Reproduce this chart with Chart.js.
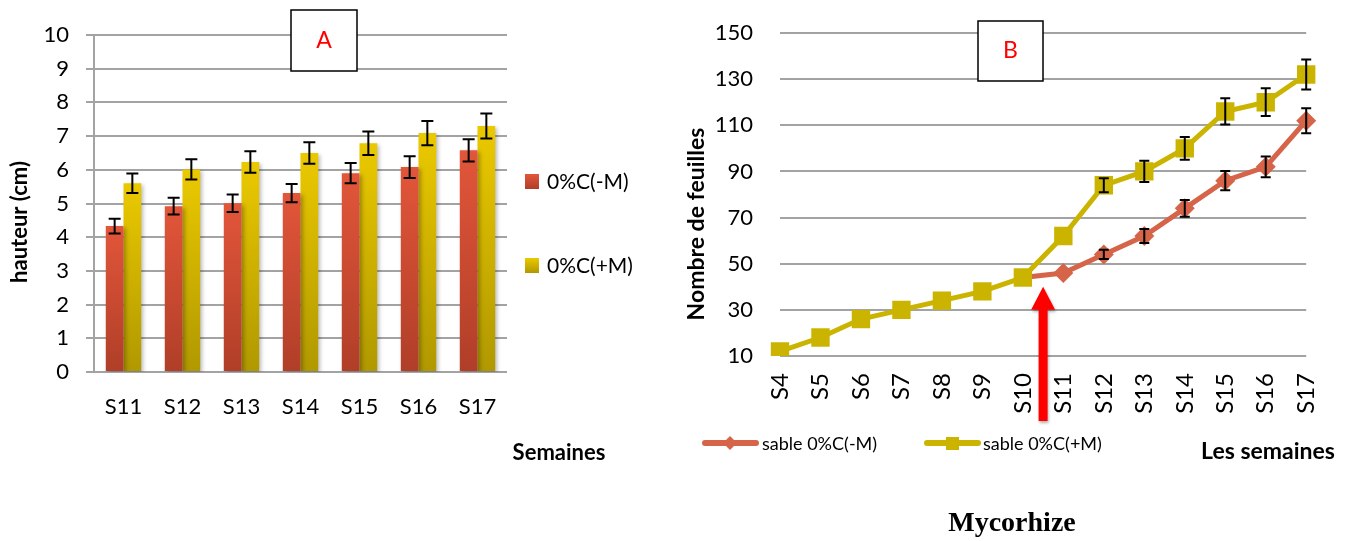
<!DOCTYPE html>
<html>
<head>
<meta charset="utf-8">
<script src="https://cdn.jsdelivr.net/npm/chart.js@4.4.0/dist/chart.umd.min.js"></script>
<style>
  body { margin: 0; background: #fff; }
  #wrap { position: relative; width: 1352px; height: 541px; overflow: hidden; }
  canvas { position: absolute; top: 0; }
  #chartA { left: 0; }
  #chartB { left: 676px; }
  #caption { position: absolute; top: 506px; left: 912px; width: 200px; text-align: center;
    font: bold 28px "Liberation Serif", serif; color: #000; }
</style>
</head>
<body>
<div id="wrap">
  <canvas id="chartA" width="676" height="541"></canvas>
  <canvas id="chartB" width="676" height="541"></canvas>
  <div id="caption">Mycorhize</div>
</div>
<script>
// --- graph A : hauteur
var weeksA = ['S11', 'S12', 'S13', 'S14', 'S15', 'S16', 'S17'];
var heightMinus = [4.33, 4.92, 5.01, 5.31, 5.9, 6.08, 6.58];
var heightPlus = [5.6, 6.01, 6.23, 6.5, 6.79, 7.09, 7.3];
var errHeightMinus = [0.22, 0.25, 0.26, 0.27, 0.3, 0.32, 0.33];
var errHeightPlus = [0.29, 0.3, 0.32, 0.32, 0.35, 0.36, 0.37];

// --- graph B : nombre de feuilles
var weeksB = ['S4', 'S5', 'S6', 'S7', 'S8', 'S9', 'S10', 'S11', 'S12', 'S13', 'S14', 'S15', 'S16', 'S17'];
var leavesMinus = [null, null, null, null, null, null, 44, 46, 54, 62, 74, 86, 92, 112];
var leavesPlus = [12, 18, 26, 30, 34, 38, 44, 62, 84, 90, 100, 116, 120, 132];
var errLeavesMinus = [0, 0, 0, 0, 0, 0, 0, 0, 2, 3, 3.6, 4.2, 4.5, 5.4];
var errLeavesPlus = [0, 0, 0, 0, 0, 0, 0, 0, 3, 4.6, 4.9, 5.7, 6, 6.5];

var labelsA = ['0%C(-M)', '0%C(+M)'];
var labelsB = ['sable 0%C(-M)', 'sable 0%C(+M)'];

var RED_TOP = '#e2563a', RED_BOT = '#b03e28';
var YEL_TOP = '#ebc900', YEL_BOT = '#b09800';
var LINE_RED = '#d56448', LINE_YEL = '#cbb400';
var GRID = '#a3a3a3';
var FONT = 'Lato, "Open Sans", sans-serif';

Chart.defaults.color = '#000';
Chart.defaults.font.family = FONT;

function barFill(top, bottom) {
  return function (c) {
    var chart = c.chart;
    var y = chart.scales.y;
    if (!y || c.parsed == null) return top;
    var y0 = y.getPixelForValue(0);
    var y1 = y.getPixelForValue(c.parsed.y);
    if (!isFinite(y0) || !isFinite(y1) || y0 === y1) return top;
    var g = chart.ctx.createLinearGradient(0, y1, 0, y0);
    g.addColorStop(0, top);
    g.addColorStop(1, bottom);
    return g;
  };
}

function drawErrors(chart, dsIndex, errs, values, cap) {
  var ctx = chart.ctx, y = chart.scales.y;
  var meta = chart.getDatasetMeta(dsIndex);
  ctx.save();
  ctx.strokeStyle = '#000';
  ctx.lineWidth = 2;
  meta.data.forEach(function (el, i) {
    var v = values[i], e = errs[i];
    if (v == null || !e) return;
    var x = el.x;
    var t = y.getPixelForValue(v + e), b = y.getPixelForValue(v - e);
    ctx.beginPath();
    ctx.moveTo(x, t); ctx.lineTo(x, b);
    ctx.moveTo(x - cap, t); ctx.lineTo(x + cap, t);
    ctx.moveTo(x - cap, b); ctx.lineTo(x + cap, b);
    ctx.stroke();
  });
  ctx.restore();
}

function labelBox(ctx, x, y, w, h, txt) {
  ctx.save();
  ctx.fillStyle = '#fff';
  ctx.fillRect(x, y, w, h);
  ctx.strokeStyle = '#000';
  ctx.lineWidth = 1.5;
  ctx.strokeRect(x, y, w, h);
  ctx.fillStyle = '#ff0000';
  ctx.font = '23px ' + FONT;
  ctx.textAlign = 'center';
  ctx.textBaseline = 'middle';
  ctx.fillText(txt, x + w / 2, y + h / 2);
  ctx.restore();
}

function vText(ctx, txt, x, y, font) {
  ctx.save();
  ctx.translate(x, y);
  ctx.rotate(-Math.PI / 2);
  ctx.font = font;
  ctx.textAlign = 'center';
  ctx.textBaseline = 'middle';
  ctx.fillStyle = '#000';
  ctx.fillText(txt, 0, 0);
  ctx.restore();
}

var decorA = {
  id: 'decorA',
  beforeDatasetsDraw: function (chart) {
    var ctx = chart.ctx;
    ctx.save();
    ctx.shadowColor = 'rgba(0,0,0,0.28)';
    ctx.shadowBlur = 4;
    ctx.shadowOffsetX = 2;
    ctx.shadowOffsetY = 2;
  },
  afterDatasetsDraw: function (chart) {
    var ctx = chart.ctx;
    ctx.restore();
    drawErrors(chart, 0, errHeightMinus, heightMinus, 6);
    drawErrors(chart, 1, errHeightPlus, heightPlus, 6);

    labelBox(ctx, 291, 10, 66, 61, 'A');
    vText(ctx, 'hauteur (cm)', 20, 222, 'bold 22px ' + FONT);

    ctx.save();
    ctx.fillStyle = '#000';
    ctx.font = 'bold 22px ' + FONT;
    ctx.textAlign = 'center';
    ctx.textBaseline = 'middle';
    ctx.fillText('Semaines', 559, 453);

    // legend
    var items = [[RED_TOP, RED_BOT, 174], [YEL_TOP, YEL_BOT, 258]];
    ctx.font = '21px ' + FONT;
    ctx.textAlign = 'left';
    items.forEach(function (it, k) {
      var g = ctx.createLinearGradient(0, it[2], 0, it[2] + 15);
      g.addColorStop(0, it[0]); g.addColorStop(1, it[1]);
      ctx.fillStyle = g;
      ctx.fillRect(525, it[2], 14, 15);
      ctx.fillStyle = '#000';
      ctx.fillText(labelsA[k], 547, it[2] + 8);
    });
    ctx.restore();
  }
};

new Chart(document.getElementById('chartA'), {
  type: 'bar',
  data: {
    labels: weeksA,
    datasets: [
      { label: labelsA[0], data: heightMinus, backgroundColor: barFill(RED_TOP, RED_BOT),
        categoryPercentage: 0.6, barPercentage: 1.0, borderWidth: 0 },
      { label: labelsA[1], data: heightPlus, backgroundColor: barFill(YEL_TOP, YEL_BOT),
        categoryPercentage: 0.6, barPercentage: 1.0, borderWidth: 0 }
    ]
  },
  options: {
    responsive: false,
    animation: false,
    devicePixelRatio: 1,
    layout: { padding: { left: 0, right: 169, top: 35, bottom: 0 } },
    plugins: { legend: { display: false }, tooltip: { enabled: false } },
    scales: {
      x: {
        grid: { display: false, drawTicks: false },
        border: { display: false },
        ticks: { font: { size: 22 }, padding: 22, maxRotation: 0 },
        afterFit: function (s) { s.height = 169; }
      },
      y: {
        min: 0, max: 10,
        ticks: { stepSize: 1, font: { size: 22 }, padding: 17 },
        grid: { color: GRID, lineWidth: 2, drawTicks: true, tickLength: 8 },
        border: { display: true, color: GRID, width: 2 },
        afterFit: function (s) { s.width = 94; s.paddingTop = 0; s.paddingBottom = 0; }
      }
    }
  },
  plugins: [decorA]
});

var decorB = {
  id: 'decorB',
  afterDatasetsDraw: function (chart) {
    var ctx = chart.ctx;
    var xs = chart.scales.x, ys = chart.scales.y;
    drawErrors(chart, 0, errLeavesMinus, leavesMinus, 5);
    drawErrors(chart, 1, errLeavesPlus, leavesPlus, 5);

    labelBox(ctx, 302, 21, 65, 60, 'B');
    vText(ctx, 'Nombre de feuilles', 21, 224, 'bold 23px ' + FONT);

    // arrow between S10 and S11
    var ax = (xs.getPixelForValue(6) + xs.getPixelForValue(7)) / 2;
    var tip = ys.getPixelForValue(40);
    ctx.save();
    ctx.shadowColor = 'rgba(0,0,0,0.3)';
    ctx.shadowBlur = 3;
    ctx.shadowOffsetX = 1;
    ctx.shadowOffsetY = 2;
    ctx.fillStyle = '#ff0000';
    ctx.beginPath();
    ctx.moveTo(ax, tip);
    ctx.lineTo(ax + 12, tip + 23);
    ctx.lineTo(ax + 4.5, tip + 23);
    ctx.lineTo(ax + 4.5, 421);
    ctx.lineTo(ax - 4.5, 421);
    ctx.lineTo(ax - 4.5, tip + 23);
    ctx.lineTo(ax - 12, tip + 23);
    ctx.closePath();
    ctx.fill();
    ctx.restore();

    ctx.save();
    ctx.fillStyle = '#000';
    ctx.font = 'bold 23px ' + FONT;
    ctx.textAlign = 'center';
    ctx.textBaseline = 'middle';
    ctx.fillText('Les semaines', 592, 452);

    // legend
    ctx.font = '18px ' + FONT;
    ctx.textAlign = 'left';
    ctx.lineCap = 'round';
    ctx.lineWidth = 6;
    ctx.strokeStyle = LINE_RED;
    ctx.beginPath(); ctx.moveTo(29, 443); ctx.lineTo(80, 443); ctx.stroke();
    ctx.fillStyle = LINE_RED;
    ctx.beginPath();
    ctx.moveTo(54, 436); ctx.lineTo(61, 443); ctx.lineTo(54, 450); ctx.lineTo(47, 443);
    ctx.closePath(); ctx.fill();
    ctx.fillStyle = '#000';
    ctx.fillText(labelsB[0], 86, 444);

    ctx.strokeStyle = LINE_YEL;
    ctx.beginPath(); ctx.moveTo(251, 443); ctx.lineTo(302, 443); ctx.stroke();
    ctx.fillStyle = LINE_YEL;
    ctx.fillRect(270, 437, 13, 13);
    ctx.fillStyle = '#000';
    ctx.fillText(labelsB[1], 307, 444);
    ctx.restore();
  }
};

new Chart(document.getElementById('chartB'), {
  type: 'line',
  data: {
    labels: weeksB,
    datasets: [
      { label: labelsB[0], data: leavesMinus, order: 1, borderColor: LINE_RED, backgroundColor: LINE_RED,
        borderWidth: 5, tension: 0, pointStyle: 'rectRot', pointBorderWidth: 0,
        pointRadius: function (c) { return c.dataIndex < 7 ? 0 : 10; } },
      { label: labelsB[1], data: leavesPlus, order: 0, borderColor: LINE_YEL, backgroundColor: LINE_YEL,
        borderWidth: 5, tension: 0, pointStyle: 'rect', pointRadius: 13, pointBorderWidth: 0 }
    ]
  },
  options: {
    responsive: false,
    animation: false,
    devicePixelRatio: 1,
    layout: { padding: { left: 0, right: 44, top: 33, bottom: 0 } },
    plugins: { legend: { display: false }, tooltip: { enabled: false } },
    scales: {
      x: {
        grid: { display: false, drawTicks: false },
        border: { display: false },
        ticks: { font: { size: 24 }, padding: 17, minRotation: 90, maxRotation: 90, autoSkip: false },
        afterFit: function (s) { s.height = 185; }
      },
      y: {
        min: 10, max: 150,
        ticks: { stepSize: 20, font: { size: 22 }, padding: 27 },
        grid: { color: GRID, lineWidth: 2, drawTicks: false },
        border: { display: false },
        afterFit: function (s) { s.width = 104; s.paddingTop = 0; s.paddingBottom = 0; }
      }
    }
  },
  plugins: [decorB]
});
</script>
</body>
</html>
